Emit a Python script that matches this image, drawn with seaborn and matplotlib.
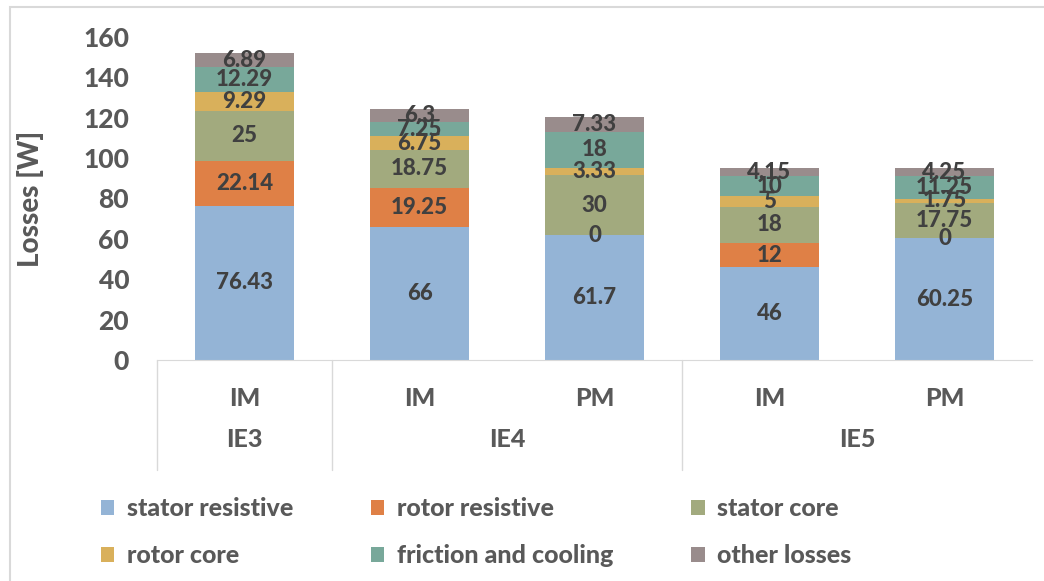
import numpy as np
import pandas as pd
import matplotlib.pyplot as plt
import seaborn as sns
from matplotlib.patches import Patch, Rectangle

# datos
clases = ["IE3", "IE4", "IE4", "IE5", "IE5"]
motores = ["IM", "IM", "PM", "IM", "PM"]
componentes = ["stator resistive", "rotor resistive", "stator core",
               "rotor core", "friction and cooling", "other losses"]
stator_resistive = [76.43, 66, 61.7, 46, 60.25]
rotor_resistive = [22.14, 19.25, 0, 12, 0]
stator_core = [25, 18.75, 30, 18, 17.75]
rotor_core = [9.29, 6.75, 3.33, 5, 1.75]
friction_cooling = [12.29, 7.25, 18, 10, 11.25]
other_losses = [6.89, 6.3, 7.33, 4.15, 4.25]
colores = ["#94B4D6", "#DF8046", "#A2AA7E", "#D9B05B", "#78A89A", "#998C8C"]

series = [stator_resistive, rotor_resistive, stator_core,
          rotor_core, friction_cooling, other_losses]
etiquetas_x = [f"{c} {m}" for c, m in zip(clases, motores)]

df = pd.DataFrame(np.array(series).T, columns=componentes, index=etiquetas_x)
acumulado = df.cumsum(axis=1)

sns.set_style("white")
plt.rcParams["font.family"] = ["Lato", "DejaVu Sans"]
PESO = 900  # Lato Black, lo mas parecido al texto grueso del original

fig = plt.figure(figsize=(10.44, 5.81), dpi=100)
ax = fig.add_axes([157 / 1044, 1 - 360 / 581, 875 / 1044, 323 / 581])

# barras apiladas: se dibuja el total primero y encima las capas inferiores
for i in range(len(componentes) - 1, -1, -1):
    sns.barplot(x=etiquetas_x, y=acumulado.iloc[:, i].values, color=colores[i],
                width=0.57, ax=ax, saturation=1, edgecolor="none")

# etiquetas de cada segmento
for j in range(len(etiquetas_x)):
    base = 0
    for i, comp in enumerate(componentes):
        v = df.iloc[j, i]
        ax.text(j, base + v / 2, f"{v:g}", ha="center", va="center",
                fontsize=16, fontweight=PESO, color="#404040")
        base += v

ax.set_xlim(-0.5, 4.5)
ax.set_ylim(0, 160)
ax.set_yticks(range(0, 161, 20))
ax.tick_params(axis="y", length=0, pad=20, labelsize=19, labelcolor="#595959")
for lab in ax.get_yticklabels():
    lab.set_fontweight(PESO)
ax.set_xticks([])
ax.set_xlabel("")
ax.set_ylabel("Losses [W]", fontsize=20, fontweight=PESO, color="#595959", labelpad=28)
for s in ["top", "right", "left"]:
    ax.spines[s].set_visible(False)
ax.spines["bottom"].set_color("#D9D9D9")

# eje de categorias en dos niveles
trans = ax.get_xaxis_transform()
for j, m in enumerate(motores):
    ax.text(j, -0.12, m, transform=trans, ha="center", va="center",
            fontsize=18, fontweight=PESO, color="#595959", clip_on=False)
grupos = {"IE3": [0], "IE4": [1, 2], "IE5": [3, 4]}
for g, idx in grupos.items():
    ax.text(np.mean(idx), -0.245, g, transform=trans, ha="center", va="center",
            fontsize=18, fontweight=PESO, color="#595959", clip_on=False)
for xs in [-0.5, 0.5, 2.5]:
    ax.plot([xs, xs], [0, -0.34], transform=trans, color="#D9D9D9", lw=1, clip_on=False)

# leyenda en filas de 3
orden = [0, 3, 1, 4, 2, 5]
handles = [Patch(facecolor=colores[k], edgecolor="none", label=componentes[k]) for k in orden]
fig.legend(handles=handles, ncol=3, loc="center left", bbox_to_anchor=(78 / 1044, 1 - 532 / 581),
           frameon=False, labelcolor="#595959", handlelength=0.55, handleheight=0.55,
           handletextpad=0.5, columnspacing=3.1, labelspacing=0.95, prop={"weight": PESO, "size": 18})

# marco exterior gris
fig.patches.append(Rectangle((10 / 1044, -0.05), 1.1, 1 - 7 / 581 + 0.05, transform=fig.transFigure,
                             fill=False, edgecolor="#D9D9D9", lw=1.5))

fig.savefig("out.png", dpi=100)
